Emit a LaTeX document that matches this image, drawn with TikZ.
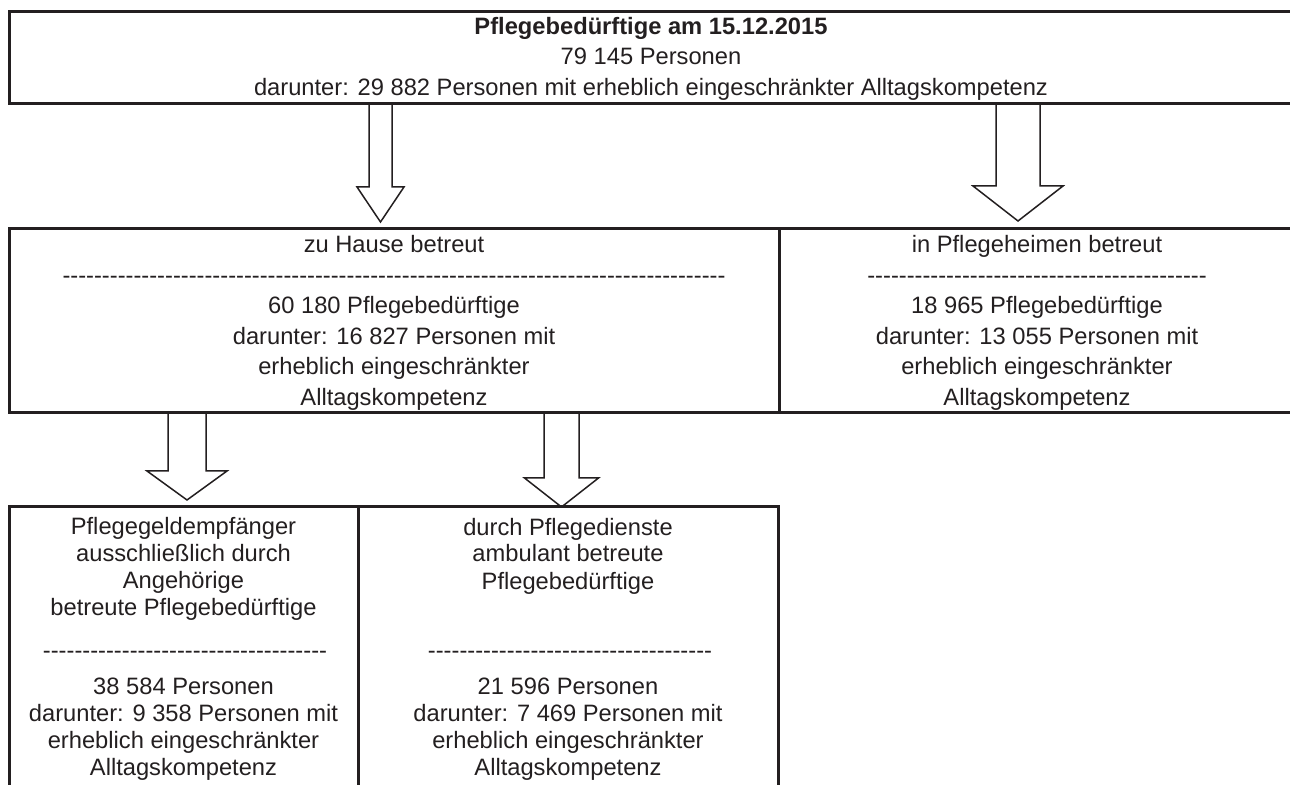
\documentclass[tikz,border=0pt]{standalone}
\usepackage{fontspec}
\setmainfont{Liberation Sans}
\usetikzlibrary{calc}
\definecolor{ink}{HTML}{231F20}
\newcommand\hy[1]{\mbox{\foreach\i in {1,...,#1}{-\kern0pt}}}
% #1 source node, #2 x centre, #3 half shaft, #4 half head, #5 shaft end y, #6 tip y, #7 tip name
\newcommand\blockarrow[7]{%
  \draw[barrow] let \p1=(#1.south) in
    (#2-#3,\y1) -- (#2-#3,#5) -- (#2-#4,#5) -- (#2,#6) coordinate (#7)
    -- (#2+#4,#5) -- (#2+#3,#5) -- (#2+#3,\y1);}
\begin{document}
\begin{tikzpicture}[x=0.5pt,y=-0.5pt,
  box/.style={draw=ink, line width=1.5pt, inner sep=0pt, outer sep=0pt},
  txt/.style={text=ink, font=\fontsize{11.85pt}{15.3pt}\selectfont, align=center, inner sep=0pt, anchor=base},
  btxt/.style={txt, font=\fontsize{11.85pt}{13.5pt}\selectfont},
  barrow/.style={draw=ink, line width=0.75pt, line join=miter}]
\useasboundingbox (0,0) rectangle (1290,785);
\clip (0,0) rectangle (1290,785);

% boxes
\node[box, minimum width=642pt, minimum height=46pt] (top) at (651,58) {};
\node[box, minimum width=385pt, minimum height=92pt] (home) at (394,321) {};
\node[box, minimum width=257pt, minimum height=92pt] (heim) at (1036,321) {};
\node[box, minimum width=174.5pt, minimum height=156.5pt] (geld) at (183.5,663.5) {};
\node[box, minimum width=210pt, minimum height=156.5pt] (amb) at (568,663.5) {};

% texts (anchor base = baseline of the last line)
\node[txt] (toptext) at (651,95.5) {\textbf{Pflegebedürftige am 15.12.2015}\\79 145 Personen\\darunter: 29 882 Personen mit erheblich eingeschränkter Alltagskompetenz};
\node[txt] (hometext) at (394,405.5) {zu Hause betreut\\\hy{84}\\60 180 Pflegebedürftige\\darunter: 16 827 Personen mit\\erheblich eingeschränkter\\Alltagskompetenz};
\node[txt] (heimtext) at (1037,405.5) {in Pflegeheimen betreut\\\hy{43}\\18 965 Pflegebedürftige\\darunter: 13 055 Personen mit\\erheblich eingeschränkter\\Alltagskompetenz};

\node[btxt] (geldup) at (183.5,616) {Pflegegeldempfänger\\ausschließlich durch\\Angehörige\\betreute Pflegebedürftige};
\node[btxt] (geldline) at (185,658) {\hy{36}};
\node[btxt] (geldlow) at (183.5,775) {38 584 Personen\\darunter: 9 358 Personen mit\\erheblich eingeschränkter\\Alltagskompetenz};

\node[btxt] (ambup) at (568,589) {durch Pflegedienste\\ambulant betreute\\Pflegebedürftige};
\node[btxt] (ambline) at (570,658) {\hy{36}};
\node[btxt] (amblow) at (568,775) {21 596 Personen\\darunter: 7 469 Personen mit\\erheblich eingeschränkter\\Alltagskompetenz};

% block arrows
\blockarrow{top}{380.5}{11.5}{23.5}{187}{222}{tipA}
\blockarrow{top}{1018}{22}{45}{186}{221}{tipB}
\blockarrow{home}{187}{19}{40}{471}{500}{tipC}
\blockarrow{home}{561.5}{17.5}{37}{478}{507}{tipD}
\end{tikzpicture}
\end{document}
